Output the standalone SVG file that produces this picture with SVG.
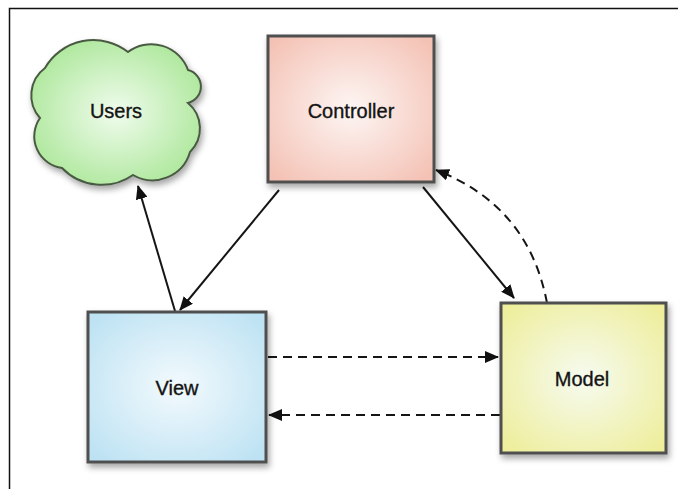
<svg xmlns="http://www.w3.org/2000/svg" width="678" height="489" viewBox="0 0 678 489">
  <defs>
    <style>
      .box { stroke: #4f4f4f; stroke-width: 3; }
      .label { font-family: "Liberation Sans", Arial, sans-serif; font-size: 20px; fill: #141414; stroke: #141414; stroke-width: 0.35; text-anchor: middle; dominant-baseline: central; }
      .solid { fill: none; stroke: #151515; stroke-width: 2; }
      .dashed { fill: none; stroke: #151515; stroke-width: 2; stroke-dasharray: 9 6; }
    </style>
    <radialGradient id="gCtrl" cx="50%" cy="50%" r="65%">
      <stop offset="0" stop-color="#fdf6f4"/>
      <stop offset="1" stop-color="#f4c2b5"/>
    </radialGradient>
    <radialGradient id="gView" cx="50%" cy="50%" r="65%">
      <stop offset="0" stop-color="#f3fafd"/>
      <stop offset="1" stop-color="#bde2f3"/>
    </radialGradient>
    <radialGradient id="gModel" cx="50%" cy="50%" r="65%">
      <stop offset="0" stop-color="#f6fbf0"/>
      <stop offset="1" stop-color="#eeee9c"/>
    </radialGradient>
    <radialGradient id="gUsers" cx="50%" cy="50%" r="60%">
      <stop offset="0" stop-color="#f0fced"/>
      <stop offset="1" stop-color="#a9e696"/>
    </radialGradient>
    <filter id="shadow" x="-10%" y="-10%" width="125%" height="125%">
      <feDropShadow dx="2" dy="4" stdDeviation="3" flood-color="#000" flood-opacity="0.35"/>
    </filter>
    <marker id="arrow" markerUnits="userSpaceOnUse" markerWidth="14" markerHeight="12" refX="13" refY="6" orient="auto">
      <path d="M0,0 L14,6 L0,12 Z" fill="#111"/>
    </marker>
  </defs>

  <rect width="678" height="489" fill="#ffffff"/>
  <!-- outer frame (top and left edges) -->
  <path d="M9.5,489 V8.5 H678" fill="none" stroke="#111" stroke-width="1.5"/>

  <g id="connectors">
    <line class="solid" x1="175" y1="311" x2="138" y2="186" marker-end="url(#arrow)"/>
    <line class="solid" x1="279" y1="190" x2="180" y2="310" marker-end="url(#arrow)"/>
    <line class="solid" x1="423" y1="187" x2="514" y2="298" marker-end="url(#arrow)"/>
    <path class="dashed" d="M547,303 C535,240 500,195 436,170" marker-end="url(#arrow)"/>
    <line class="dashed" x1="268" y1="357" x2="498" y2="357" marker-end="url(#arrow)"/>
    <line class="dashed" x1="500" y1="415" x2="269" y2="415" marker-end="url(#arrow)"/>
  </g>

  <g id="users">
    <path d="M45,68 A56,56 0 0 1 128,52 A39,39 0 0 1 188,70 A17,17 0 0 1 188,103 A33,33 0 0 1 190,152 A39,39 0 0 1 133,175 A55,55 0 0 1 62,168 A32,32 0 0 1 40,118 A34,34 0 0 1 45,68 Z"
          fill="url(#gUsers)" stroke="#4a5a42" stroke-width="2" filter="url(#shadow)"/>
    <text class="label" x="116" y="111">Users</text>
  </g>

  <g id="controller">
    <rect class="box" x="268" y="36" width="166" height="146" fill="url(#gCtrl)" filter="url(#shadow)"/>
    <text class="label" x="351" y="111">Controller</text>
  </g>

  <g id="view">
    <rect class="box" x="88" y="312" width="178" height="150" fill="url(#gView)" filter="url(#shadow)"/>
    <text class="label" x="177" y="388">View</text>
  </g>

  <g id="model">
    <rect class="box" x="501" y="303" width="165" height="150" fill="url(#gModel)" filter="url(#shadow)"/>
    <text class="label" x="582" y="379">Model</text>
  </g>
</svg>
